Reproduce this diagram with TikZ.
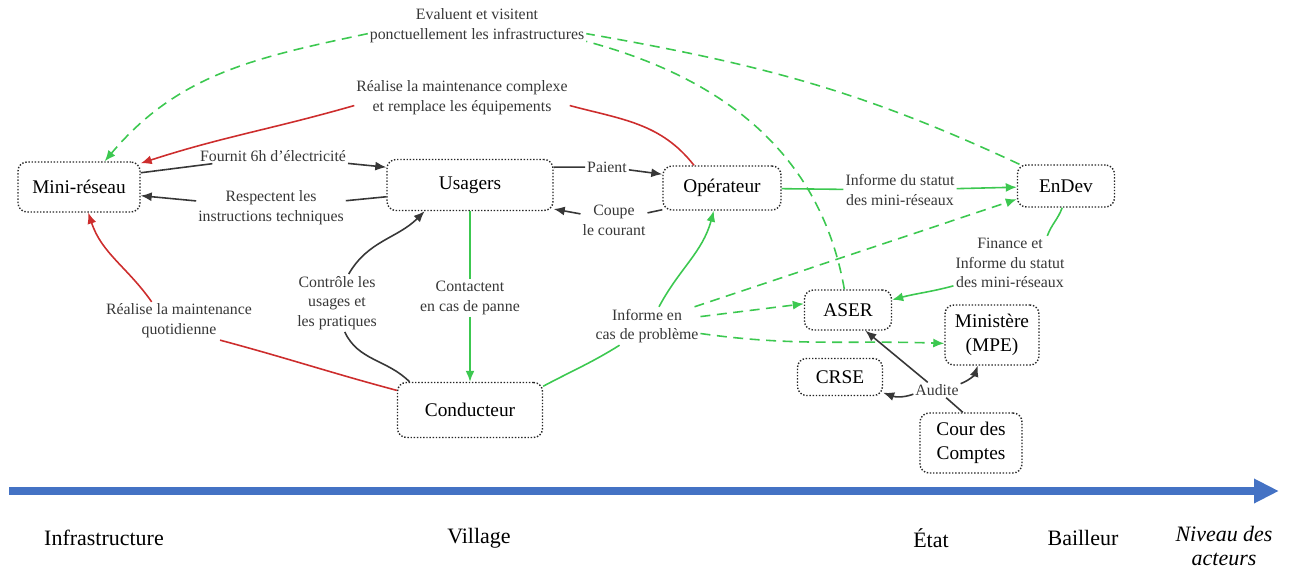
\documentclass[tikz,border=0pt]{standalone}
\usepackage{fontspec}
\setmainfont{Liberation Serif}
\usetikzlibrary{arrows.meta}
\definecolor{gris}{RGB}{55,55,55}
\definecolor{vertclair}{RGB}{60,200,80}
\definecolor{rougef}{RGB}{205,45,45}
\definecolor{bleuaxe}{RGB}{68,114,196}
\begin{document}
\begin{tikzpicture}[x=0.2mm, y=-0.2mm]
\tikzset{boite/.style={draw=black!85, densely dotted, line width=0.8pt, rounded corners=1.8mm, align=center, inner sep=0pt, font=\fontsize{11}{14}\selectfont},
etiq/.style={align=center, inner sep=1pt, text=gris, font=\fontsize{9}{11.2}\selectfont},
niveau/.style={align=center, inner sep=0pt, font=\fontsize{12.5}{13.5}\selectfont},
bout/.style={-{Latex[length=2.2mm,width=1.8mm]}},
ltrait/.style={draw=gris, line width=0.9pt},
lnoir/.style={ltrait, bout},
lvert/.style={draw=vertclair, line width=0.9pt, bout},
lrouge/.style={draw=rougef, line width=0.9pt, bout},
lvertpt/.style={draw=vertclair, line width=0.9pt, dash pattern=on 2mm off 1.3mm},
lvertptfl/.style={lvertpt, bout}}
\useasboundingbox (0,0) rectangle (1293,572);
\node[boite, minimum width=24.4mm, minimum height=10mm] (Mini) at (79,187) {Mini-réseau};
\node[boite, minimum width=33.2mm, minimum height=10.2mm] (Usa) at (470,185) {Usagers};
\node[boite, minimum width=23.6mm, minimum height=8.8mm] (Ope) at (722,188) {Opérateur};
\node[boite, minimum width=19.4mm, minimum height=8.4mm] (EnD) at (1066,186) {EnDev};
\node[boite, minimum width=17.4mm, minimum height=8mm] (ASER) at (848,310) {ASER};
\node[boite, minimum width=18.8mm, minimum height=12mm] (MPE) at (992,335) {Ministère\\(MPE)};
\node[boite, minimum width=17mm, minimum height=7.4mm] (CRSE) at (840,377) {CRSE};
\node[boite, minimum width=29mm, minimum height=11mm] (Cond) at (470,410) {Conducteur};
\node[boite, minimum width=20.4mm, minimum height=12mm] (Cour) at (971,443) {Cour des\\Comptes};
\node[etiq] (Lev) at (477,26) {Evaluent et visitent\\ponctuellement les infrastructures};
\node[etiq] (Lcompl) at (462,98) {Réalise la maintenance complexe\\et remplace les équipements};
\node[etiq] (Lfour) at (273,156) {Fournit 6h d'électricité};
\node[etiq] (Lresp) at (271,208) {Respectent les\\instructions techniques};
\node[etiq] (Lpaie) at (607,167) {Paient};
\node[etiq] (Lcoupe) at (614,220) {Coupe\\le courant};
\node[etiq] (Lstat) at (900,190) {Informe du statut\\des mini-réseaux};
\node[etiq] (Lfin) at (1010,263) {Finance et\\Informe du statut\\des mini-réseaux};
\node[etiq] (Lctrl) at (337,303) {Contrôle les\\usages et\\les pratiques};
\node[etiq] (Lcont) at (470,298) {Contactent\\en cas de panne};
\node[etiq] (Lquot) at (179,321) {Réalise la maintenance\\quotidienne};
\node[etiq] (Linfo) at (647,326) {Informe en\\cas de problème};
\node[etiq] (Laud) at (937,390) {Audite};
\draw[lnoir] (Mini.13) -- (Lfour) -- (Usa.168);
\draw[lnoir] (Usa.188) -- (Lresp) -- (Mini.-8);
\draw[lnoir] (Usa.12) -- (Lpaie) -- (Ope.167);
\draw[lnoir] (Ope.200) -- (Lcoupe) -- (Usa.-16);
\draw[lvert] (Ope) -- (Lstat) -- (EnD);
\draw[lrouge] (Ope.141) to[out=128,in=-15] (Lcompl.-4) (Lcompl.184) to[out=196,in=18] (Mini.21);
\draw[lrouge] (Cond.165) to[out=165,in=-15] (Lquot.-25) (Lquot.145) to[out=125,in=-72] (Mini.-70);
\draw[lnoir] (Cond.155) to[out=135,in=-65] (Lctrl.-75) (Lctrl.68) to[out=60,in=-135] (Usa.-150);
\draw[lvert] (Usa) -- (Lcont) -- (Cond);
\draw[lvert] (Cond.18) to[out=28,in=-148] (Linfo.-145) (Linfo.58) to[out=62,in=-105] (Ope.-110);
\draw[lvertptfl] (Linfo.22) -- (EnD.-165);
\draw[lvertptfl] (Linfo.10) -- (ASER.172);
\draw[lvertptfl] (Linfo.-8) to[out=-8,in=178] (MPE.-170);
\draw[lvertpt] (EnD.155) to[out=155,in=-10] (Lev.-4);
\draw[lvertpt] (ASER.100) to[out=100,in=-15] (Lev.-8);
\draw[lvertptfl] (Lev.184) to[out=192,in=50] (Mini.45);
\draw[lvert] (EnD.-100) to[out=-110,in=70] (Lfin.36) (Lfin.202) to[out=195,in=15] (ASER.13);
\draw[ltrait] (Cour.105) -- (Laud.-40);
\draw[lnoir] (Laud) -- (ASER.-50);
\draw[lnoir] (Laud.15) to[bend right=25] (MPE.-115);
\draw[lnoir] (Laud.190) to[out=200,in=-20] (CRSE.-20);
\coordinate (A0) at (9,491);
\coordinate (A1) at (1279,491);
\draw[bleuaxe, line width=1.5mm, -{Triangle[length=5mm,width=4.6mm]}] (A0) -- (A1);
\node[niveau] (Infra) at (104,538) {Infrastructure};
\node[niveau] (Vill) at (479,538) {Village};
\node[niveau] (Etat) at (931,538) {État};
\node[niveau] (Bail) at (1083,538) {Bailleur};
\node[niveau, font=\fontsize{12.5}{13.5}\selectfont\itshape] (Niv) at (1224,546) {Niveau des\\acteurs};
\end{tikzpicture}
\end{document}
